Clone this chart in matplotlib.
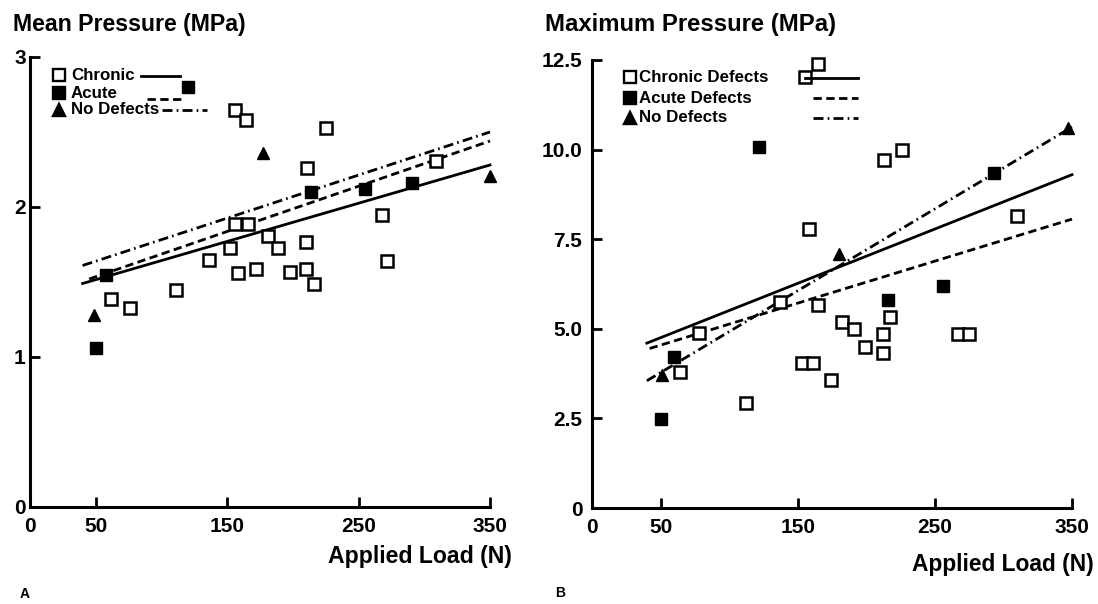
import matplotlib
matplotlib.use("Agg")
import matplotlib.pyplot as plt
from matplotlib.lines import Line2D

plt.rcParams['font.family'] = ['Liberation Sans', 'DejaVu Sans']

# panel A: mean pressure vs applied load
mean_chronic_x = [156, 164, 225, 211, 156, 166, 181, 189, 210, 152, 136, 158, 172,
                  198, 210, 216, 111, 62, 76, 268, 272, 309]
mean_chronic_y = [2.65, 2.58, 2.53, 2.26, 1.89, 1.89, 1.81, 1.73, 1.77, 1.73, 1.65, 1.56, 1.59,
                  1.57, 1.59, 1.49, 1.45, 1.39, 1.33, 1.95, 1.64, 2.31]
mean_acute_x = [120, 214, 255, 291, 58, 50]
mean_acute_y = [2.80, 2.10, 2.12, 2.16, 1.55, 1.06]
mean_nodef_x = [177, 350, 49]
mean_nodef_y = [2.36, 2.21, 1.28]
mean_fit_x = [[40, 350], [45, 350], [40, 350]]
mean_fit_y = [[1.49, 2.28], [1.52, 2.44], [1.61, 2.50]]

# panel B: maximum pressure vs applied load
max_chronic_x = [155, 165, 158, 213, 226, 310, 137, 165, 182, 191, 217, 212, 199,
                 212, 267, 275, 153, 161, 174, 112, 78, 64]
max_chronic_y = [12.03, 12.4, 7.78, 9.7, 9.99, 8.15, 5.75, 5.66, 5.19, 4.99, 5.33, 4.86, 4.49,
                 4.32, 4.86, 4.86, 4.05, 4.05, 3.57, 2.93, 4.88, 3.8]
max_acute_x = [122, 293, 256, 216, 60, 50]
max_acute_y = [10.07, 9.35, 6.19, 5.8, 4.2, 2.48]
max_nodef_x = [347, 180, 51]
max_nodef_y = [10.6, 7.1, 3.71]
max_fit_x = [[40, 350], [42, 350], [40, 350]]
max_fit_y = [[4.6, 9.3], [4.45, 8.06], [3.55, 10.63]]

x_ticks = [0, 50, 150, 250, 350]
mean_y_ticks = [0, 1, 2, 3]
max_y_ticks = [0, 2.5, 5, 7.5, 10, 12.5]
max_y_labels = ['0', '2.5', '5.0', '7.5', '10.0', '12.5']

W, H = 1098, 604
fig = plt.figure(figsize=(W / 100, H / 100), dpi=100)

DASH = (3, 1.6)
DASHDOT = (3.6, 1.5, 0.6, 1.5)
styles = [dict(ls='-'), dict(dashes=DASH), dict(dashes=DASHDOT)]


def fx(x):
    return x / W


def fy(y):
    return 1 - y / H


def draw_panel(ax, cx, cy, ax_, ay, nx, ny, fits_x, fits_y, yticks, ylabels, ytop, ypad):
    for (xs, ys), st in zip(zip(fits_x, fits_y), styles):
        ax.plot(xs, ys, color='black', lw=2.0, clip_on=False, **st)
    ax.plot(cx, cy, 's', ms=8, mfc='white', mec='black', mew=1.8, ls='none', clip_on=False)
    ax.plot(ax_, ay, 's', ms=9, mfc='black', mec='black', ls='none', clip_on=False)
    ax.plot(nx, ny, '^', ms=9, mfc='black', mec='black', ls='none', clip_on=False)
    ax.set_xlim(0, 350)
    ax.set_ylim(0, ytop)
    for s in ['top', 'right']:
        ax.spines[s].set_visible(False)
    for s in ['left', 'bottom']:
        ax.spines[s].set_linewidth(2.2)
    ax.set_xticks(x_ticks)
    ax.set_xticklabels([str(t) for t in x_ticks])
    ax.set_yticks(yticks)
    ax.set_yticklabels(ylabels)
    ax.tick_params(axis='both', direction='in', length=7, width=2, labelsize=15)
    ax.tick_params(axis='x', pad=7)
    ax.tick_params(axis='y', pad=ypad)
    for lab in ax.get_xticklabels() + ax.get_yticklabels():
        lab.set_fontweight('bold')


ax1 = fig.add_axes([fx(30), fy(507), fx(490 - 30), (507 - 57) / H])
draw_panel(ax1, mean_chronic_x, mean_chronic_y, mean_acute_x, mean_acute_y,
           mean_nodef_x, mean_nodef_y, mean_fit_x, mean_fit_y,
           mean_y_ticks, [str(t) for t in mean_y_ticks], 3, 3)

ax2 = fig.add_axes([fx(592), fy(508), fx(1072 - 592), (508 - 60) / H])
draw_panel(ax2, max_chronic_x, max_chronic_y, max_acute_x, max_acute_y,
           max_nodef_x, max_nodef_y, max_fit_x, max_fit_y,
           max_y_ticks, max_y_labels, 12.5, 7)

# titles and axis labels
fig.text(fx(13), fy(25), 'Mean Pressure (MPa)', fontsize=16.7, fontweight='bold', va='center')
fig.text(fx(545), fy(25), 'Maximum Pressure (MPa)', fontsize=17.2, fontweight='bold', va='center')
fig.text(fx(512), fy(557), 'Applied Load (N)', fontsize=16.6, fontweight='bold',
         va='center', ha='right')
fig.text(fx(1094), fy(565), 'Applied Load (N)', fontsize=16.4, fontweight='bold',
         va='center', ha='right')
fig.text(fx(25), fy(594), 'A', fontsize=10, fontweight='bold', va='center', ha='center')
fig.text(fx(560), fy(593), 'B', fontsize=10, fontweight='bold', va='center', ha='center')


# hand-drawn legends: marker, label, then line sample
def legend_row(mx, my, marker, filled, label, tx, lx0, lx1, ly, st):
    fig.add_artist(Line2D([fx(mx)], [fy(my)], marker=marker, ms=8.5,
                          mfc='black' if filled else 'white', mec='black', mew=1.7,
                          ls='none'))
    fig.text(fx(tx), fy(my), label, fontsize=12.2, fontweight='bold', va='center', ha='left')
    fig.add_artist(Line2D([fx(lx0), fx(lx1)], [fy(ly), fy(ly)], color='black', lw=2.0, **st))


labels_a = ['Chronic', 'Acute', 'No Defects']
labels_b = ['Chronic Defects', 'Acute Defects', 'No Defects']
markers = [('s', False), ('s', True), ('^', True)]

rows_a = [(75, 141, 180, 76), (93, 147, 183, 99), (110, 162, 207, 110)]
for lab, (mk, fl), (my, l0, l1, ly), st in zip(labels_a, markers, rows_a, styles):
    legend_row(59, my, mk, fl, lab, 71, l0, l1, ly, st)

rows_b = [(77, 805, 858, 78), (98, 813, 858, 98), (118, 813, 858, 118)]
for lab, (mk, fl), (my, l0, l1, ly), st in zip(labels_b, markers, rows_b, styles):
    legend_row(630, my, mk, fl, lab, 639, l0, l1, ly, st)

fig.savefig('out.png', dpi=100)
